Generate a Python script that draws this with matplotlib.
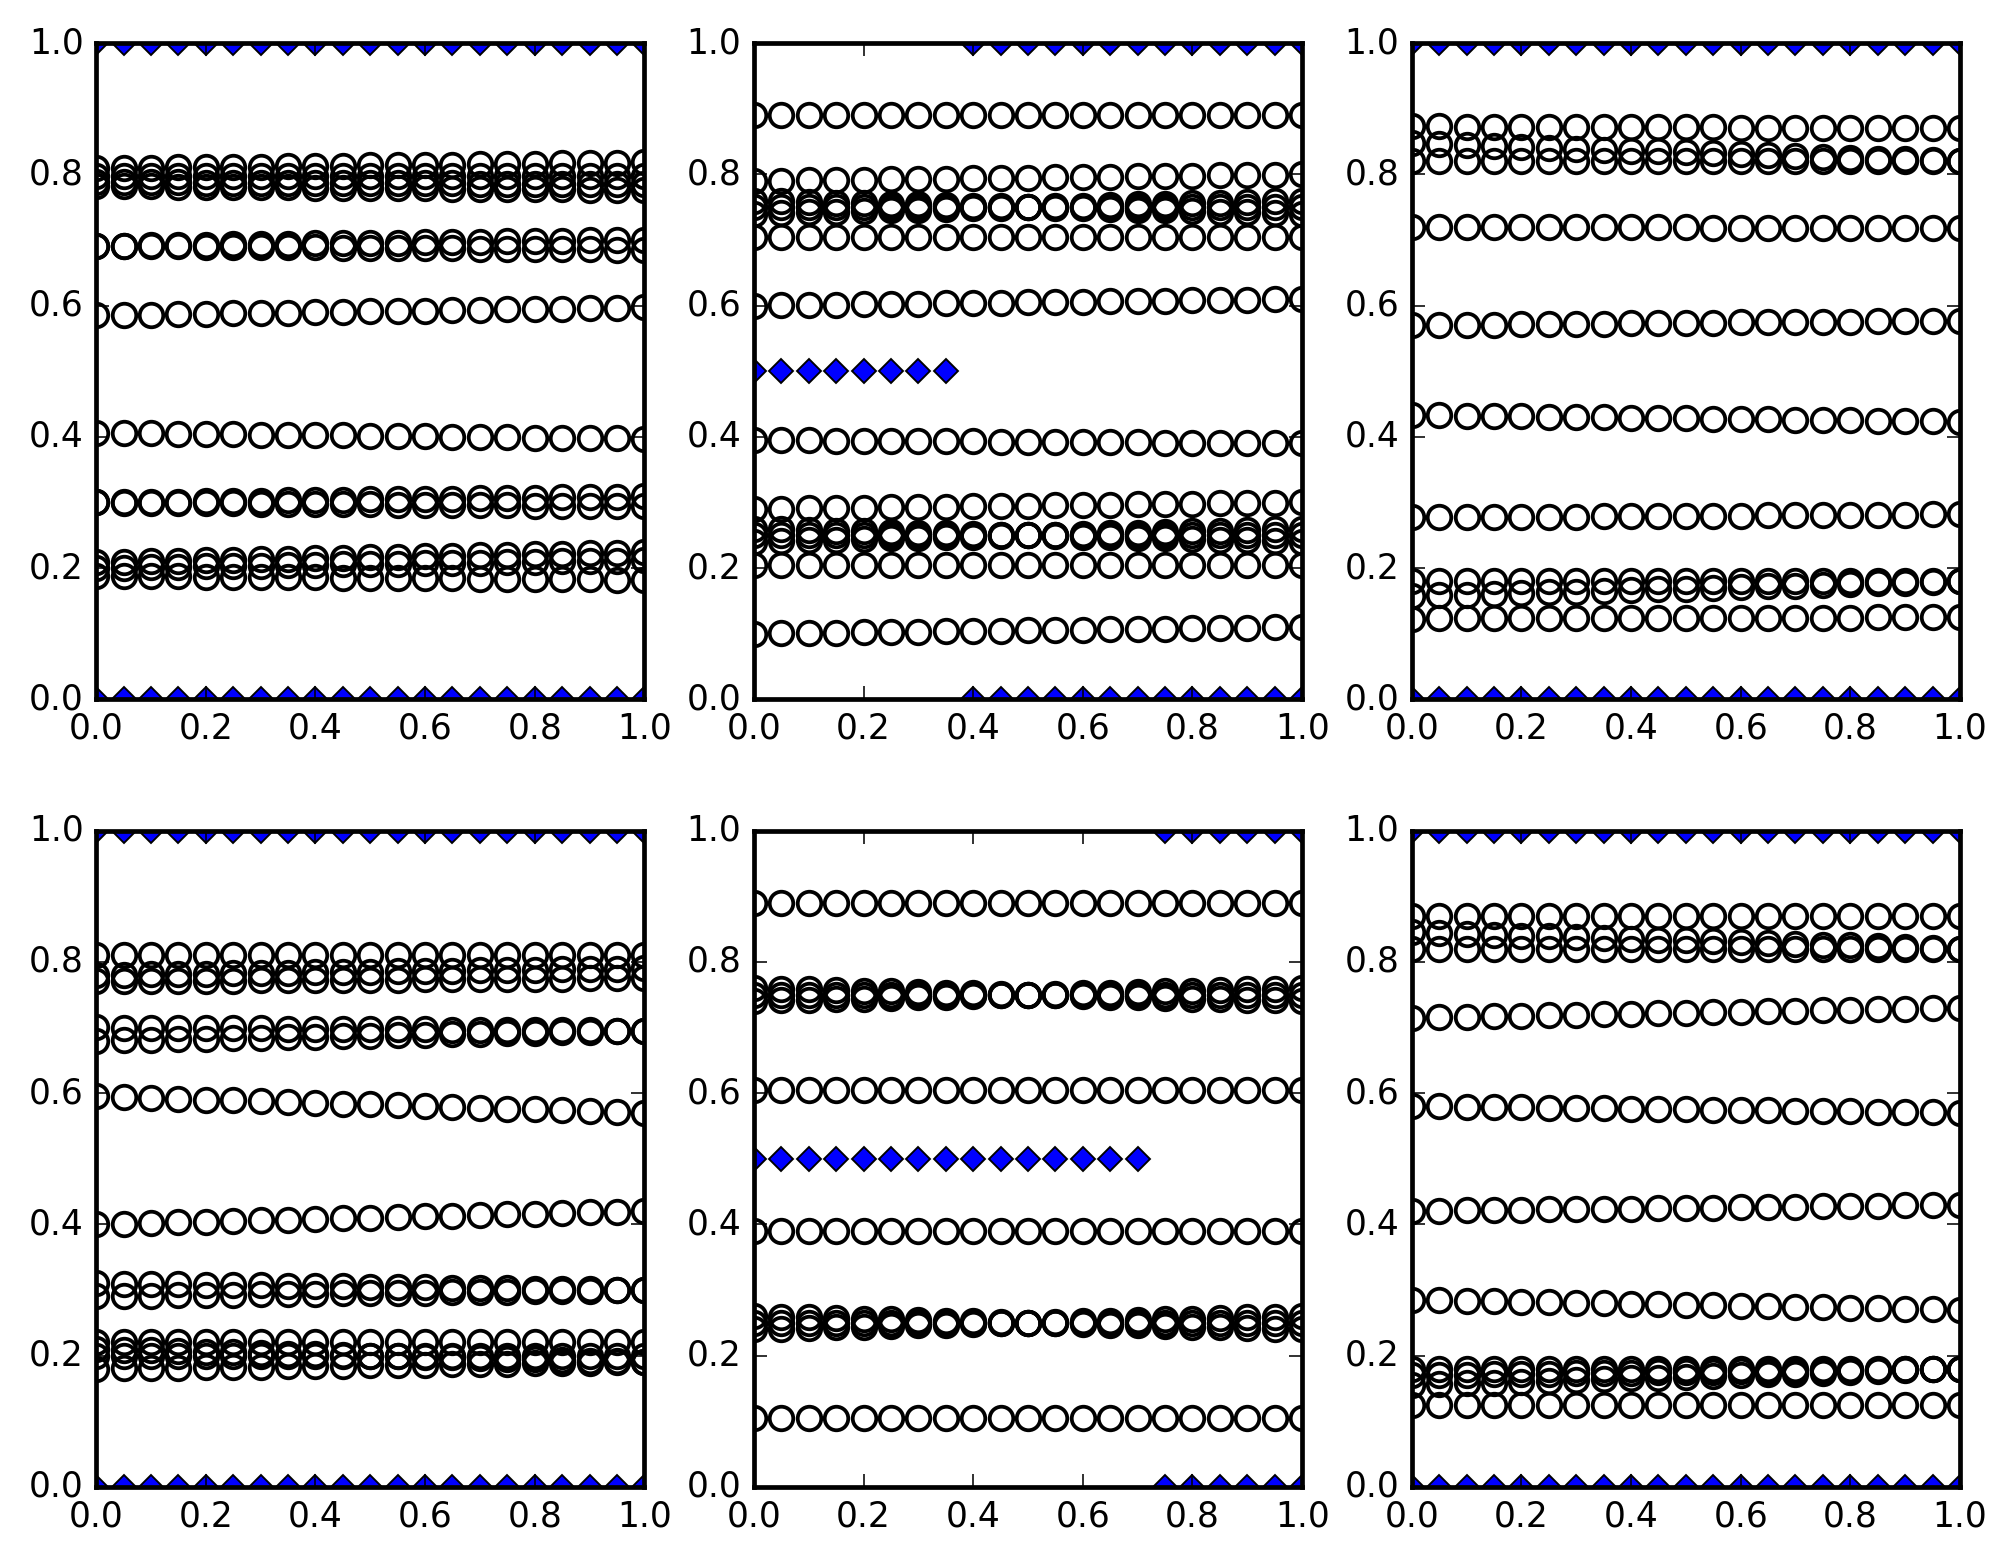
import numpy as np
import matplotlib
matplotlib.use("Agg")
import matplotlib.pyplot as plt

plt.style.use("classic")
plt.rcParams["font.size"] = 11

# x positions of every point
x_vals = np.arange(21) * 0.05

# circle rows per panel: value at x=0 and value at x=1
p1_start = [0.809, 0.797, 0.788, 0.782, 0.691, 0.691, 0.585, 0.406, 0.300, 0.300, 0.209, 0.200, 0.188]
p1_end = [0.818, 0.797, 0.785, 0.776, 0.700, 0.685, 0.597, 0.397, 0.309, 0.294, 0.224, 0.212, 0.182]

p2_start = [0.89, 0.79, 0.74, 0.75, 0.76, 0.705, 0.60, 0.395, 0.29, 0.24, 0.25, 0.26, 0.205, 0.10]
p2_end = [0.89, 0.80, 0.76, 0.75, 0.74, 0.705, 0.61, 0.390, 0.30, 0.26, 0.25, 0.24, 0.205, 0.11]

p3_start = [0.873, 0.847, 0.820, 0.720, 0.570, 0.433, 0.277, 0.180, 0.157, 0.123]
p3_end = [0.870, 0.820, 0.820, 0.718, 0.577, 0.423, 0.282, 0.180, 0.180, 0.125]

p4_start = [0.81, 0.78, 0.77, 0.70, 0.68, 0.595, 0.40, 0.31, 0.29, 0.22, 0.21, 0.20, 0.18]
p4_end = [0.81, 0.79, 0.775, 0.695, 0.695, 0.57, 0.42, 0.30, 0.30, 0.22, 0.19, 0.20, 0.19]

p5_start = [0.89, 0.74, 0.75, 0.76, 0.605, 0.39, 0.24, 0.25, 0.26, 0.105]
p5_end = [0.89, 0.76, 0.75, 0.74, 0.605, 0.39, 0.26, 0.25, 0.24, 0.105]

p6_start = [0.87, 0.845, 0.82, 0.715, 0.58, 0.42, 0.285, 0.18, 0.17, 0.155, 0.125]
p6_end = [0.87, 0.820, 0.82, 0.730, 0.57, 0.43, 0.270, 0.18, 0.18, 0.180, 0.125]

# diamonds: x up to which they sit at 0.5 (the rest sit on 0 and 1)
mid_cut = [0.0, 0.35, 0.0, 0.0, 0.70, 0.0]

starts = [p1_start, p2_start, p3_start, p4_start, p5_start, p6_start]
ends = [p1_end, p2_end, p3_end, p4_end, p5_end, p6_end]

dpi = 226
fig, axes = plt.subplots(2, 3, figsize=(2004 / dpi, 1565 / dpi), dpi=dpi)
fig.subplots_adjust(left=0.048, right=0.978, top=0.9725, bottom=0.05,
                    wspace=0.2, hspace=0.2)

for i, ax in enumerate(axes.flat):
    for s, e in zip(starts[i], ends[i]):
        ys = s + (e - s) * x_vals
        ax.plot(x_vals, ys, "o", mfc="none", mec="black", mew=1.2, ms=7.5)

    cut = mid_cut[i]
    if cut > 0:
        mid_x = x_vals[x_vals <= cut + 1e-9]
        edge_x = x_vals[x_vals > cut + 1e-9]
        ax.plot(mid_x, np.full(len(mid_x), 0.5), "D", mfc="blue",
                mec="black", mew=0.6, ms=5.5)
    else:
        edge_x = x_vals
    for yv in (0.0, 1.0):
        ax.plot(edge_x, np.full(len(edge_x), yv), "D", mfc="blue",
                mec="black", mew=0.6, ms=5.5)

    ax.set_xlim(0, 1)
    ax.set_ylim(0, 1)
    ax.set_xticks(np.arange(0, 1.01, 0.2))
    ax.set_yticks(np.arange(0, 1.01, 0.2))
    for sp in ax.spines.values():
        sp.set_linewidth(1.5)

fig.savefig("out.png", dpi=dpi)
